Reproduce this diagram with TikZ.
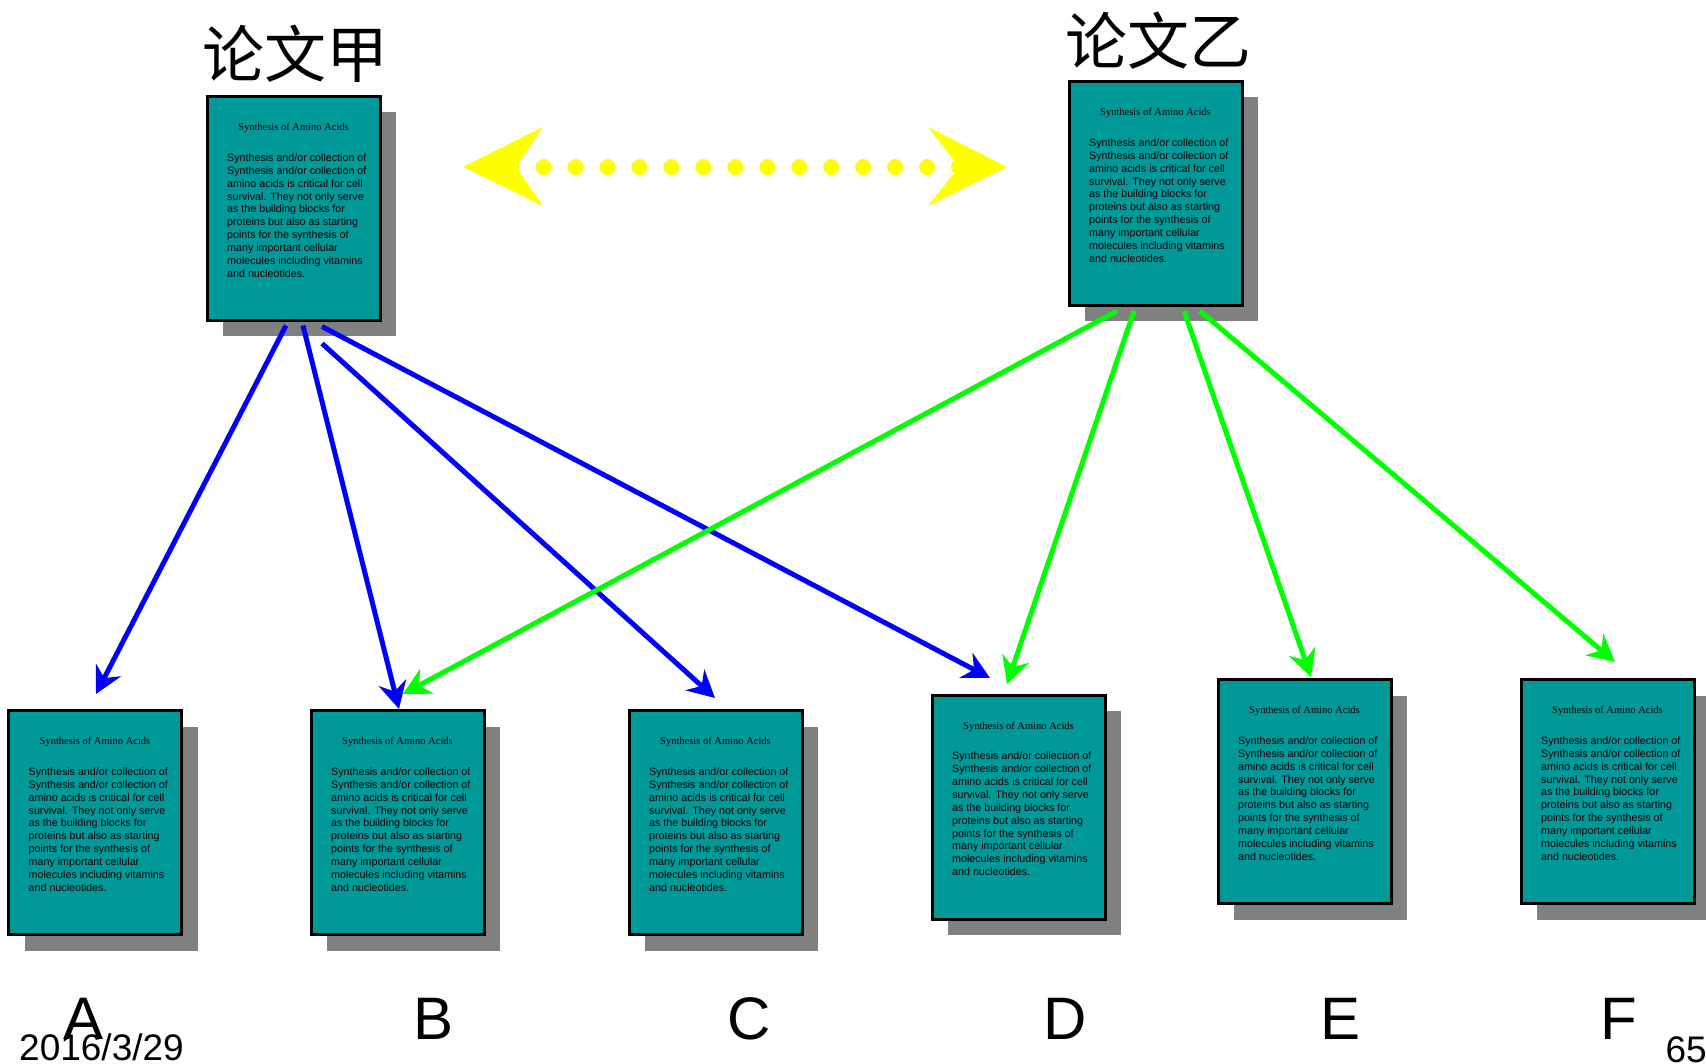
\documentclass[tikz,border=0pt]{standalone}
\usepackage{fontspec}
\setmainfont{Liberation Serif}
\newfontfamily\arialf{Liberation Sans}
\newfontfamily\tnrf{Liberation Serif}
\newfontfamily\cjkf{Noto Sans CJK SC}
\usetikzlibrary{arrows.meta,shadows,calc}
\definecolor{teal2}{HTML}{009999}
\definecolor{shgray}{HTML}{808080}
\definecolor{blue2}{HTML}{0000FF}
\definecolor{green2}{HTML}{00FF00}
\definecolor{yellow2}{HTML}{FFFF00}
\tikzset{
  paper/.style={rectangle, draw=black, line width=3pt, fill=teal2,
    minimum width=173pt, minimum height=224pt, inner sep=0pt, outer sep=0pt,
    drop shadow={shadow xshift=16pt, shadow yshift=-16pt, fill=shgray, opacity=1}},
  ptitle/.style={anchor=base, inner sep=0pt, font=\tnrf\fontsize{10.5}{12}\selectfont},
  pbody/.style={anchor=north west, inner sep=0pt, align=left,
    font=\arialf\fontsize{10.7}{12.85}\selectfont},
  bluearrow/.style={draw=blue2, line width=5pt,
    -{Stealth[length=27pt,width=28pt,inset=9pt]}},
  greenarrow/.style={draw=green2, line width=5pt,
    -{Stealth[length=27pt,width=28pt,inset=9pt]}},
  biglabel/.style={anchor=base, inner sep=0pt, font=\arialf\fontsize{60}{72}\selectfont},
  cjktitle/.style={anchor=base, inner sep=0pt, font=\cjkf\fontsize{62}{74}\selectfont},
  footer/.style={inner sep=0pt, font=\arialf\fontsize{37}{44}\selectfont},
}
\newcommand\bodytxt{Synthesis and/or collection of\\Synthesis and/or collection of\\amino acids is critical for cell\\survival. They not only serve\\as the building blocks for\\proteins but also as starting\\points for the synthesis of\\many important cellular\\molecules including vitamins\\and nucleotides.}
\newcommand\docbox[3]{%
  \node[paper] (#1) at (#2,#3) {};
  \node[ptitle] (#1-t) at ($(#1.north)+(0,34)$) {Synthesis of Amino Acids};
  \node[pbody] (#1-b) at ($(#1.north west)+(20,57)$) {\bodytxt};
}
\begin{document}
\begin{tikzpicture}[x=1pt,y=-1pt]
\useasboundingbox (0,0) rectangle (1706,1064);
\fill[white] (0,0) rectangle (1706,1064);

% titles
\node[cjktitle] (t1) at (295,78) {论文甲};
\node[cjktitle] (t2) at (1158,65) {论文乙};

% boxes
\docbox{P1}{293.5}{208.5}
\docbox{P2}{1155.5}{193.5}
\docbox{A}{95}{822.5}
\docbox{B}{397.5}{822.5}
\docbox{C}{715.5}{822.5}
\docbox{D}{1018.5}{807}
\docbox{E}{1304.5}{791.5}
\docbox{F}{1607.5}{791.5}

% yellow dotted double arrow
\foreach \i in {0,...,14} \fill[yellow2] (511.7+\i*31.95,167) circle (8pt);
\fill[yellow2] (463,167) -- (543,127) -- (516,167) -- (543,206) -- cycle;
\fill[yellow2] (1007,167) -- (928,127) -- (959,167) -- (928,206) -- cycle;

% blue arrows
\draw[bluearrow] ($(P1.south)+(-7.5,5)$) -- ($(A.north)+(1,-16.5)$);
\draw[bluearrow] ($(P1.south)+(9.5,5)$) -- ($(B.north)+(1.5,-1.5)$);
\draw[bluearrow] ($(P1.south)+(28.5,23)$) -- ($(C.north)+(-0.5,-12.5)$);
\draw[bluearrow] ($(P1.south)+(28.5,6)$) -- ($(D.north)+(-28.5,-17)$);

% green arrows
\draw[greenarrow] ($(P2.south)+(-38.5,5.5)$) -- ($(B.north)+(5.5,-16.5)$);
\draw[greenarrow] ($(P2.south)+(-21.5,5.5)$) -- ($(D.north)+(-11.5,-11)$);
\draw[greenarrow] ($(P2.south)+(28.5,5.5)$) -- ($(E.north)+(6.5,-2.5)$);
\draw[greenarrow] ($(P2.south)+(44.5,5.5)$) -- ($(F.north)+(7.5,-17.5)$);

% letters
\node[biglabel] (lA) at (84,1039) {A};
\node[biglabel] (lB) at (434,1039) {B};
\node[biglabel] (lC) at (749,1039) {C};
\node[biglabel] (lD) at (1065,1039) {D};
\node[biglabel] (lE) at (1340,1039) {E};
\node[biglabel] (lF) at (1619,1039) {F};

% footer
\node[footer, anchor=base west] (date) at (19,1060) {2016/3/29};
\node[footer, anchor=base east] (pg) at (1707,1062) {65};
\end{tikzpicture}
\end{document}
